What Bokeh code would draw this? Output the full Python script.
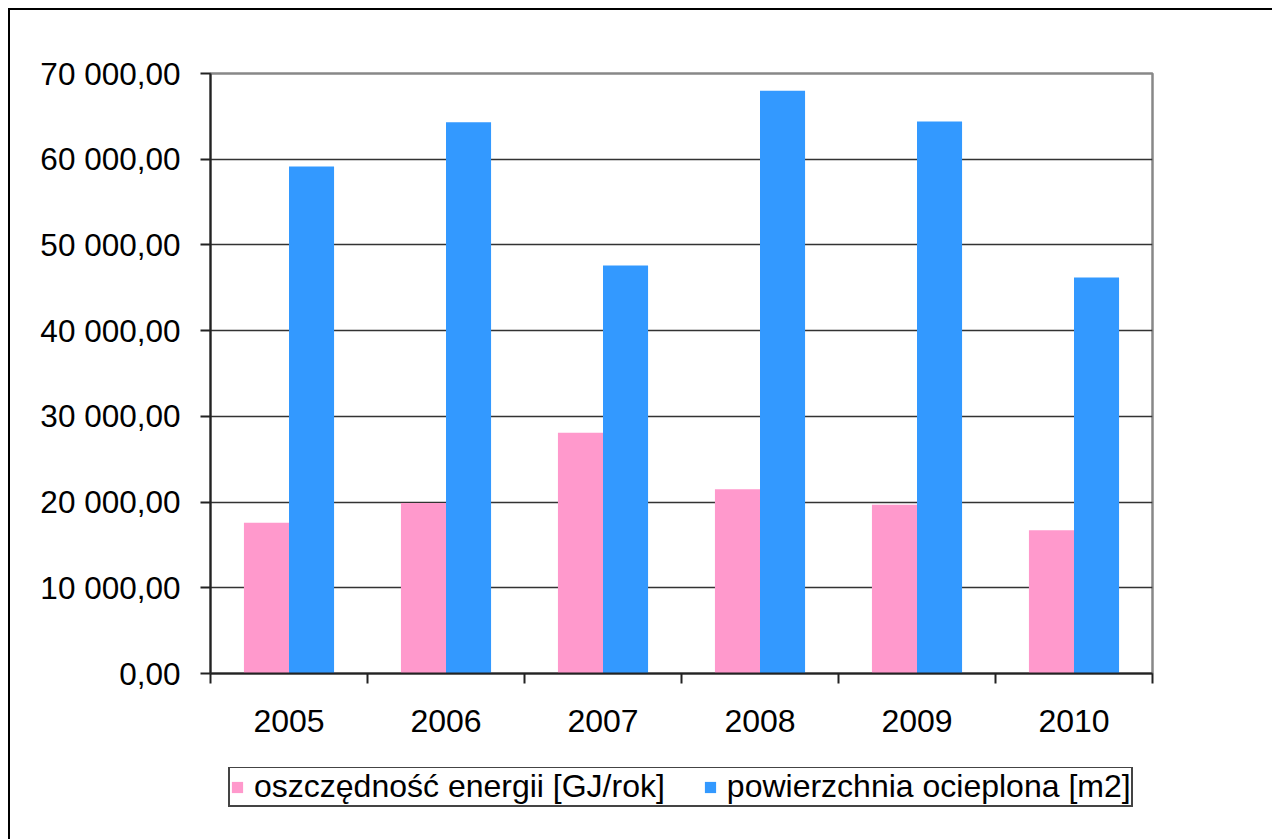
from bokeh.plotting import figure
from bokeh.layouts import column
from bokeh.models import FixedTicker, Legend, LegendItem, Range1d
from bokeh.embed import file_html
from bokeh.resources import INLINE

# ---- data ----
years = ["2005", "2006", "2007", "2008", "2009", "2010"]
energy_savings = [17600, 19900, 28100, 21500, 19700, 16700]      # oszczędność energii [GJ/rok]
insulated_area = [59150, 64300, 47600, 68000, 64400, 46200]      # powierzchnia ocieplona [m2]
y_ticks = [0, 10000, 20000, 30000, 40000, 50000, 60000, 70000]
y_tick_labels = ["0,00", "10 000,00", "20 000,00", "30 000,00",
                 "40 000,00", "50 000,00", "60 000,00", "70 000,00"]
series_names = ["oszczędność energii [GJ/rok]", "powierzchnia ocieplona [m2]"]
series_colors = ["#FF99CC", "#3399FF"]

FONT = "Liberation Sans"
n = len(years)
centers = [i + 0.5 for i in range(n)]
bounds = [float(i) for i in range(n + 1)]
bw = 0.287
x_pink = [c - bw / 2 for c in centers]
x_blue = [c + bw / 2 for c in centers]

p = figure(frame_width=942, frame_height=600, output_backend="svg", toolbar_location=None,
           x_range=Range1d(0, n), y_range=Range1d(0, 70000),
           min_border_left=200, min_border_right=120, min_border_top=63,
           min_border_bottom=94)

p.vbar(x=x_pink, top=energy_savings, bottom=0, width=bw,
       fill_color=series_colors[0], line_color=None)
p.vbar(x=x_blue, top=insulated_area, bottom=0, width=bw,
       fill_color=series_colors[1], line_color=None)

# y axis
p.yaxis.ticker = FixedTicker(ticks=y_ticks)
p.yaxis.major_label_overrides = {t: l for t, l in zip(y_ticks, y_tick_labels)}
p.yaxis.major_label_text_font = FONT
p.yaxis.major_label_text_font_size = "31.5px"
p.yaxis.major_label_text_color = "black"
p.yaxis.major_tick_out = 10
p.yaxis.major_tick_in = 0
p.yaxis.minor_tick_line_color = None
p.yaxis.major_label_standoff = 20
p.yaxis.axis_line_color = "#222222"
p.yaxis.axis_line_width = 2
p.yaxis.major_tick_line_color = "#222222"
p.yaxis.major_tick_line_width = 2

# x axis: labels at centers, ticks at boundaries
p.xaxis.ticker = FixedTicker(ticks=centers, minor_ticks=bounds)
p.xaxis.major_label_overrides = {c: y for c, y in zip(centers, years)}
p.xaxis.major_label_text_font = FONT
p.xaxis.major_label_text_font_size = "32px"
p.xaxis.major_label_text_color = "black"
p.xaxis.major_tick_line_color = None
p.xaxis.major_tick_out = 0
p.xaxis.minor_tick_out = 10
p.xaxis.minor_tick_in = 0
p.xaxis.minor_tick_line_color = "#222222"
p.xaxis.minor_tick_line_width = 2
p.xaxis.major_label_standoff = 26
p.xaxis.axis_line_color = "#222222"
p.xaxis.axis_line_width = 2

# grid / frame
p.xgrid.visible = False
p.ygrid.ticker = FixedTicker(ticks=y_ticks)
p.ygrid.grid_line_color = "#333333"
p.ygrid.grid_line_width = 1.5
p.outline_line_color = "#888888"
p.outline_line_width = 2.5
p.background_fill_color = "white"
p.border_fill_color = "white"

# ---- legend strip (separate figure below the chart) ----
pl = figure(width=1262, height=72, output_backend="svg", toolbar_location=None,
            x_range=Range1d(0, n), y_range=Range1d(0, 70000),
            min_border_left=0, min_border_right=0, min_border_top=0, min_border_bottom=0)
pl.axis.visible = False
pl.grid.visible = False
pl.outline_line_color = None
pl.background_fill_color = "white"
pl.border_fill_color = "white"
lr1 = pl.vbar(x=x_pink, top=energy_savings, bottom=0, width=bw,
              fill_color=series_colors[0], line_color=None, visible=False)
lr2 = pl.vbar(x=x_blue, top=insulated_area, bottom=0, width=bw,
              fill_color=series_colors[1], line_color=None, visible=False)

legend = Legend(items=[LegendItem(label=series_names[0], renderers=[lr1]),
                       LegendItem(label=series_names[1], renderers=[lr2])],
                orientation="horizontal", location=(18, 32),
                label_text_font=FONT, label_text_font_size="32px",
                label_text_color="black", glyph_width=14, glyph_height=14,
                label_standoff=10, spacing=38, padding=0, margin=0,
                border_line_color="#444444", border_line_width=2,
                border_line_alpha=1,
                background_fill_color="white", background_fill_alpha=1,
                inactive_fill_alpha=0)
pl.add_layout(legend, "center")

layout = column(p, pl, spacing=0)
layout.styles = {"margin-left": "8px", "margin-top": "8px",
                 "border-top": "2px solid black", "border-left": "2px solid black"}

open("out.html", "w").write(file_html(layout, INLINE))
